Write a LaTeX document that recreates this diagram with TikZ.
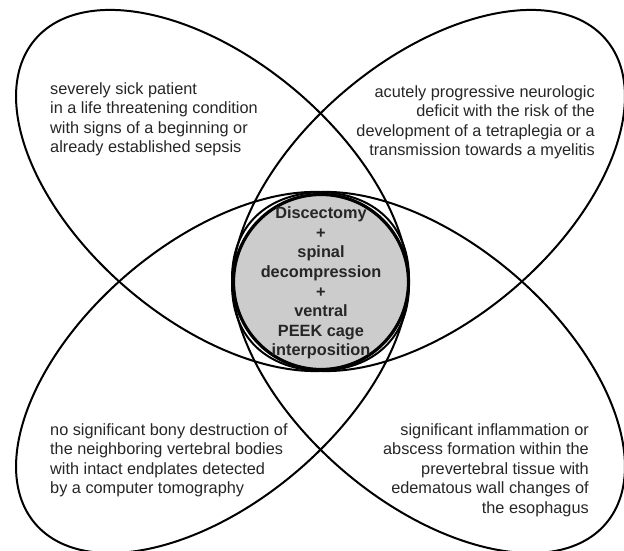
\documentclass[tikz,border=0pt]{standalone}
\usepackage{fontspec}
\setmainfont{Liberation Sans}
\usetikzlibrary{shapes.geometric}
\begin{document}
\begin{tikzpicture}[x=1pt,y=1pt,
  petal/.style={draw=black, line width=2pt, ellipse, minimum width=466pt, minimum height=260pt, inner sep=0pt, outer sep=0pt},
  corefill/.style={circle, fill=black!20, minimum size=175pt, inner sep=0pt},
  corering/.style={circle, draw=black, line width=3.2pt, minimum size=175pt, inner sep=0pt},
  lbl/.style={inner sep=0pt, text=black!85, font=\fontsize{16.3}{19.6}\selectfont},
  corelbl/.style={inner sep=0pt, text=black!85, align=center, font=\bfseries\fontsize{16.3}{19.6}\selectfont}]
\useasboundingbox (0,0) rectangle (624,551);
\node[corefill] (core) at (321,269) {};
\node[petal, rotate=-40.4] (tl) at (212.5,360.5) {};
\node[petal, rotate=40.4] (tr) at (428.5,360.5) {};
\node[petal, rotate=40.4] (bl) at (212.5,178.5) {};
\node[petal, rotate=-40.4] (br) at (428.5,178.5) {};
\node[corering] (ring) at (core) {};
\node[corelbl] (coretext) at (321,268) {Discectomy\\+\\spinal\\decompression\\+\\ventral\\PEEK cage\\interposition};
\node[lbl, align=left, anchor=north west] (tltext) at (50,469) {severely sick patient\\in a life threatening condition\\with signs of a beginning or\\already established sepsis};
\node[lbl, align=right, anchor=north east] (trtext) at (595,466) {acutely progressive neurologic\\deficit with the risk of the\\development of a tetraplegia or a\\transmission towards a myelitis};
\node[lbl, align=left, anchor=north west] (bltext) at (50,128) {no significant bony destruction of\\the neighboring vertebral bodies\\with intact endplates detected\\by a computer tomography};
\node[lbl, align=right, anchor=north east] (brtext) at (589,128) {significant inflammation or\\abscess formation within the\\prevertebral tissue with\\edematous wall changes of\\the esophagus};
\end{tikzpicture}
\end{document}
